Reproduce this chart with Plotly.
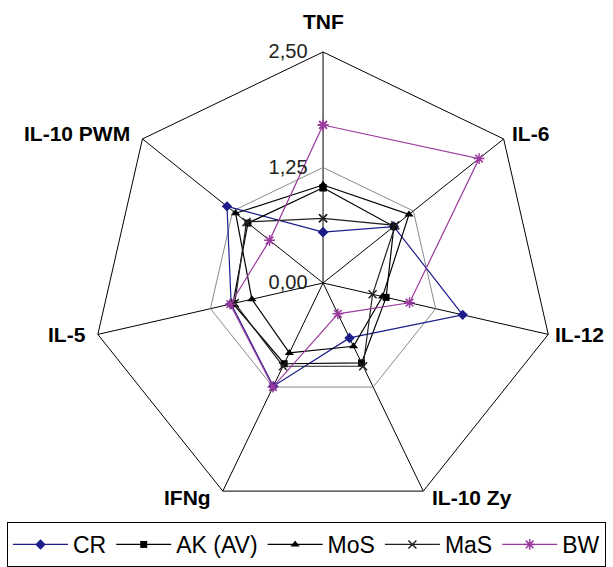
import math
import plotly.graph_objects as go

axes = ["TNF", "IL-6", "IL-12", "IL-10 Zy", "IFNg", "IL-5", "IL-10 PWM"]
radial_ticks = [0, 1.25, 2.5]
radial_ticktext = ["0,00", "1,25", "2,50"]

cr = [0.55, 0.98, 1.55, 0.66, 1.24, 1.02, 1.33]
ak = [1.03, 0.98, 0.70, 0.96, 0.97, 1.00, 1.04]
mos = [1.06, 1.19, 0.66, 0.76, 0.84, 0.79, 1.21]
mas = [0.70, 1.00, 0.55, 1.00, 1.00, 0.98, 1.06]
bw = [1.71, 2.16, 0.96, 0.37, 1.25, 1.03, 0.74]

series = [
    ("CR", cr, "#1c1c8a", "diamond", 8),
    ("AK (AV)", ak, "#000000", "square", 7),
    ("MoS", mos, "#000000", "triangle-up", 8),
    ("MaS", mas, "#222222", "x-thin", 8),
    ("BW", bw, "#9a3a9e", "asterisk", 9),
]

W, H = 613, 567
dom_x = [0.150, 0.904]
dom_y = [0.0935, 0.9083]

fig = go.Figure()
for name, vals, col, sym, sz in series:
    r = vals + vals[:1]
    th = axes + axes[:1]
    open_sym = sym in ("x-thin", "asterisk")
    fig.add_trace(go.Scatterpolar(
        r=r, theta=th, name=name, mode="lines+markers",
        line=dict(color=col, width=1.2),
        marker=dict(symbol=sym, size=sz, color=col,
                    line=dict(color=col, width=1.5 if open_sym else 0)),
    ))

# category labels placed beside the outer vertices of the polar grid
cx = (dom_x[0] + dom_x[1]) / 2
cy = (dom_y[0] + dom_y[1]) / 2
R_px = min((dom_x[1] - dom_x[0]) * W, (dom_y[1] - dom_y[0]) * H) / 2
label_place = [  # xanchor, yanchor, xshift, yshift
    ("center", "middle", 0, 30),
    ("left", "middle", 6, 5),
    ("left", "middle", 5, 0),
    ("left", "middle", 7, -6),
    ("right", "middle", -10, -6),
    ("right", "middle", -10, 0),
    ("right", "middle", -10, 5),
]
annotations = []
n = len(axes)
for i, (lab, (xa, ya, xs, ys)) in enumerate(zip(axes, label_place)):
    ang = math.radians(90 - i * 360 / n)
    annotations.append(dict(
        text=lab, showarrow=False, xref="paper", yref="paper",
        x=cx + R_px * math.cos(ang) / W, y=cy + R_px * math.sin(ang) / H,
        xanchor=xa, yanchor=ya, xshift=xs, yshift=ys,
        font=dict(family="Liberation Sans", size=21, color="black", weight="bold"),
    ))

fig.update_layout(
    width=W, height=H,
    margin=dict(l=0, r=0, t=0, b=0),
    paper_bgcolor="white",
    showlegend=True,
    annotations=annotations,
    polar=dict(
        domain=dict(x=dom_x, y=dom_y),
        gridshape="linear",
        bgcolor="white",
        angularaxis=dict(
            direction="clockwise", rotation=90,
            showline=True, linecolor="black", linewidth=1,
            gridcolor="black", gridwidth=1, ticks="", showticklabels=False,
        ),
        radialaxis=dict(
            range=[0, 2.5], tickvals=radial_ticks, ticktext=radial_ticktext,
            angle=90, tickangle=90, showline=False,
            ticks="outside", ticklen=8, tickcolor="rgba(0,0,0,0)",
            gridcolor="#8a8a8a", gridwidth=1, side="counterclockwise",
            tickfont=dict(family="Liberation Sans", size=20, color="#222222"),
        ),
    ),
    legend=dict(
        orientation="h", x=0.5, xanchor="center", y=0.0, yanchor="bottom",
        bordercolor="black", borderwidth=1, bgcolor="white",
        itemwidth=55,
        font=dict(family="Liberation Sans", size=23, color="black"),
    ),
)

fig.write_html("out.html")
